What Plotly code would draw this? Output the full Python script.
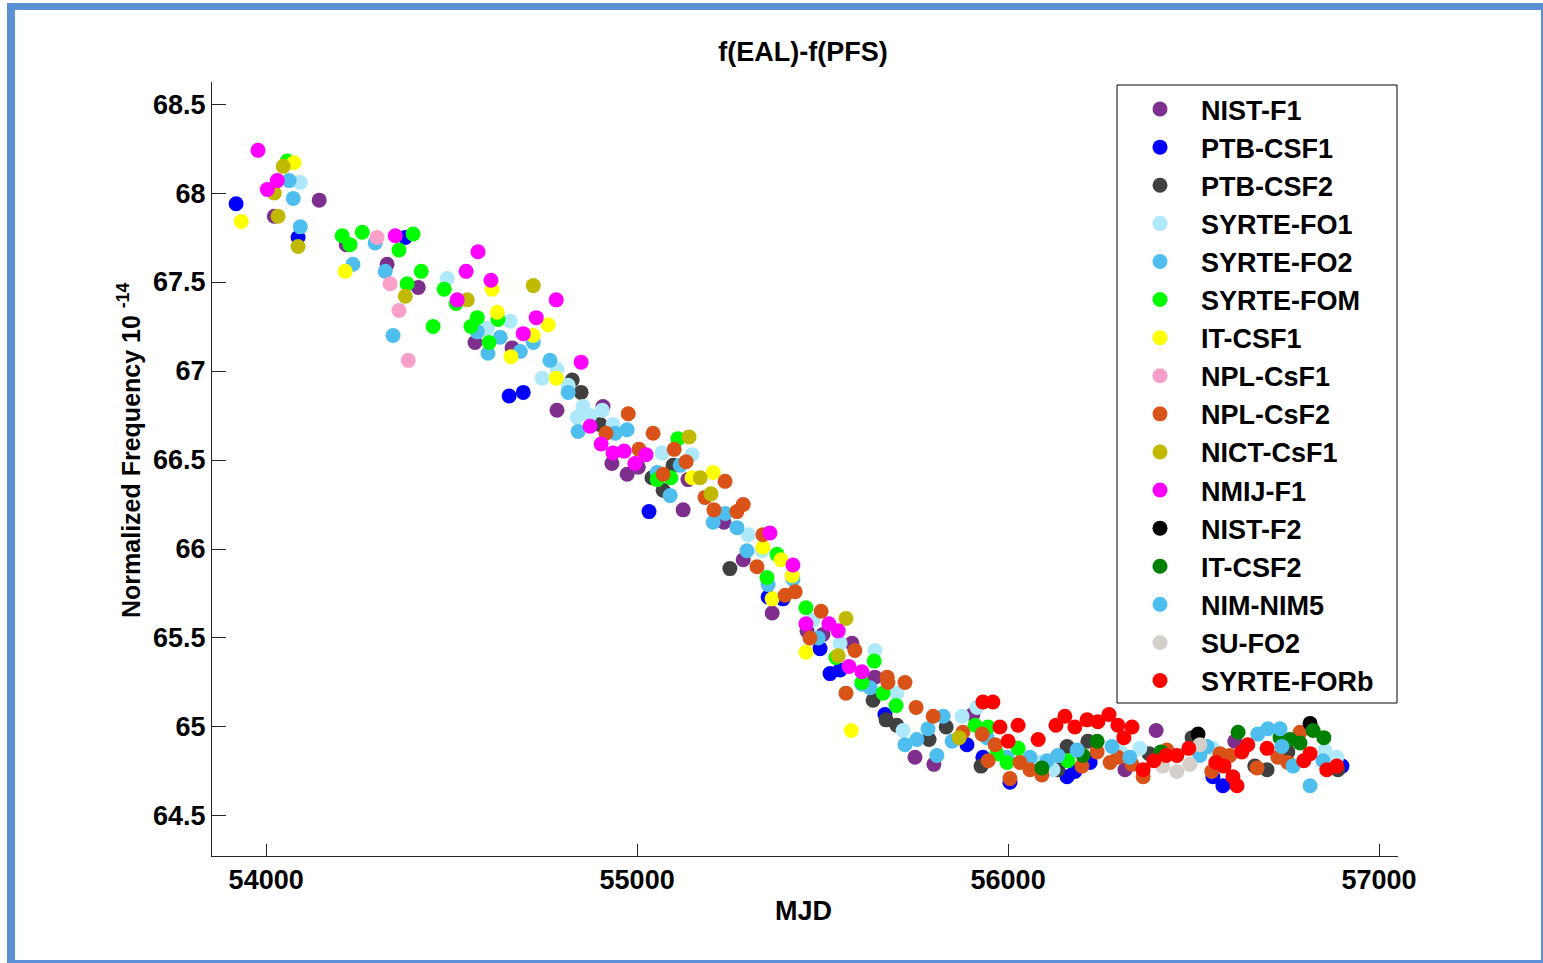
import plotly.graph_objects as go

# ---------------- data ----------------
NIST_F1_MJD = [54022, 54143, 54216, 54326, 54410, 54563, 54663, 54784, 54908, 54932, 54973, 55003, 55137,
               55124, 55234, 55286, 55364, 55458, 55501, 55579, 55641, 55749, 55800, 55905, 56399, 56315, 56611]
NIST_F1_VAL = [67.87, 67.96, 67.71, 67.60, 67.47, 67.16, 67.13, 66.78, 66.80, 66.48, 66.42, 66.46, 66.39,
               66.22, 66.15, 65.94, 65.64, 65.54, 65.52, 65.47, 65.28, 64.83, 64.79, 65.07, 64.98, 64.76, 64.92]

PTB_CSF1_MJD = [53919, 54086, 54375, 54655, 54693, 55032, 55353, 55393, 55493, 55520, 55547, 55668, 55889,
                55932, 56005, 56159, 56180, 56221, 56552, 56579, 56900]
PTB_CSF1_VAL = [67.94, 67.75, 67.75, 66.86, 66.88, 66.21, 65.73, 65.72, 65.44, 65.30, 65.32, 65.07, 64.90,
                64.83, 64.69, 64.72, 64.75, 64.80, 64.72, 64.67, 64.78]

PTB_CSF2_MJD = [54825, 54849, 54900, 55040, 55070, 55097, 55250, 55636, 55671, 55700, 55787, 55833, 55927,
                56134, 56159, 56215, 56380, 56496, 56665, 56698, 56754, 56889]
PTB_CSF2_VAL = [66.95, 66.88, 66.70, 66.40, 66.33, 66.47, 65.89, 65.15, 65.04, 65.01, 64.93, 65.00, 64.78,
                64.76, 64.89, 64.92, 64.85, 64.94, 64.78, 64.76, 64.86, 64.76]

SYRTE_FO1_MJD = [54092, 54488, 54596, 54658, 54744, 54784, 54814, 54838, 54854, 54873, 54906, 54935, 55067,
                 55148, 55299, 55337, 55474, 55547, 55641, 55700, 55717, 55876, 55916, 56086, 56121, 56302,
                 56355, 56552, 56854, 56886]
SYRTE_FO1_VAL = [68.06, 67.52, 67.24, 67.28, 66.96, 67.01, 66.92, 66.74, 66.80, 66.75, 66.78, 66.70, 66.54,
                 66.53, 66.08, 65.99, 65.60, 65.47, 65.43, 65.19, 64.98, 65.06, 65.11, 64.80, 64.76, 64.86,
                 64.88, 64.88, 64.87, 64.83]

SYRTE_FO2_MJD = [54062, 54073, 54092, 54234, 54294, 54321, 54342, 54569, 54598, 54631, 54685, 54720, 54765,
                 54814, 54841, 54941, 54973, 55054, 55089, 55116, 55205, 55237, 55269, 55296, 55353, 55420,
                 55488, 55606, 55628, 55722, 55754, 55784, 55825, 55808, 55849, 55943, 55997, 56059, 56105]
SYRTE_FO2_VAL = [68.07, 67.97, 67.81, 67.60, 67.72, 67.56, 67.20, 67.22, 67.10, 67.19, 67.11, 67.16, 67.06,
                 66.88, 66.66, 66.65, 66.67, 66.43, 66.30, 66.47, 66.15, 66.20, 66.12, 65.99, 65.80, 65.83,
                 65.50, 65.24, 65.22, 64.90, 64.93, 64.99, 65.06, 64.84, 64.92, 64.94, 64.83, 64.83, 64.81]

SYRTE_FOM_MJD = [54057, 54205, 54226, 54259, 54358, 54396, 54418, 54380, 54480, 54512, 54450, 54569, 54552,
                 54601, 54625, 55110, 55054, 55091, 55377, 55350, 55455, 55536, 55639, 55606, 55663, 55698,
                 55911, 55946, 55970, 55997, 56027, 56161]
SYRTE_FOM_VAL = [68.18, 67.76, 67.71, 67.78, 67.68, 67.77, 67.56, 67.49, 67.46, 67.38, 67.25, 67.30, 67.25,
                 67.16, 67.29, 66.62, 66.39, 66.40, 65.97, 65.84, 65.67, 65.39, 65.37, 65.25, 65.19, 65.12,
                 65.01, 65.00, 64.85, 64.80, 64.88, 64.81]

IT_CSF1_MJD = [53933, 54075, 54213, 54609, 54623, 54720, 54660, 54760, 54782, 55205, 55148, 55339, 55388,
               55418, 55364, 55455, 55577]
IT_CSF1_VAL = [67.84, 68.17, 67.56, 67.46, 67.33, 67.20, 67.08, 67.26, 66.96, 66.43, 66.40, 66.01, 65.94,
               65.85, 65.72, 65.42, 64.98]

NPL_CSF1_MJD = [54299, 54334, 54358, 54383]
NPL_CSF1_VAL = [67.75, 67.49, 67.34, 67.06]

NPL_CSF2_MJD = [54976, 55043, 54916, 55005, 55100, 55132, 55070, 55237, 55183, 55207, 55269, 55286, 55323,
                55339, 55399, 55426, 55496, 55466, 55587, 55674, 55563, 55676, 55722, 55752, 55798, 55878,
                55930, 55965, 55946, 56032, 56059, 56091, 56005, 56199, 56240, 56275, 56296, 56334, 56364,
                56428, 56525, 56549, 56571, 56598, 56671, 56727, 56754, 56787]
NPL_CSF2_VAL = [66.76, 66.65, 66.65, 66.56, 66.56, 66.49, 66.42, 66.38, 66.29, 66.22, 66.21, 66.25, 65.90,
                66.08, 65.74, 65.76, 65.65, 65.50, 65.43, 65.28, 65.19, 65.25, 65.25, 65.11, 65.06, 64.97,
                64.96, 64.90, 64.81, 64.80, 64.76, 64.73, 64.71, 64.78, 64.86, 64.80, 64.83, 64.79, 64.72,
                64.87, 64.89, 64.75, 64.85, 64.84, 64.77, 64.83, 64.80, 64.97]

NICT_CSF1_MJD = [54046, 54022, 54032, 54086, 54375, 54542, 54720, 55140, 55170, 55199, 55563, 55542, 55868]
NICT_CSF1_VAL = [68.15, 68.00, 67.87, 67.70, 67.42, 67.40, 67.48, 66.63, 66.40, 66.31, 65.61, 65.40, 64.94]

NMIJ_F1_MJD = [53978, 54030, 54003, 54348, 54571, 54539, 54606, 54515, 54782, 54728, 54693, 54849, 54873,
               54903, 54935, 54965, 54994, 55024, 55358, 55420, 55455, 55517, 55542, 55571, 55606]
NMIJ_F1_VAL = [68.24, 68.07, 68.02, 67.76, 67.67, 67.56, 67.51, 67.40, 67.40, 67.30, 67.21, 67.05, 66.69,
               66.59, 66.54, 66.55, 66.48, 66.53, 66.09, 65.91, 65.58, 65.58, 65.54, 65.34, 65.31]

NIST_F2_MJD = [56512, 56814]
NIST_F2_VAL = [64.96, 65.02]

IT_CSF2_MJD = [56091, 56202, 56240, 56412, 56620, 56733, 56760, 56787, 56822, 56851]
IT_CSF2_VAL = [64.77, 64.84, 64.92, 64.86, 64.97, 64.94, 64.93, 64.91, 64.98, 64.94]

NIM_NIM5_MJD = [56134, 56186, 56280, 56328, 56517, 56536, 56673, 56700, 56733, 56738, 56768, 56814, 56849]
NIM_NIM5_VAL = [64.84, 64.87, 64.89, 64.83, 64.84, 64.89, 64.96, 64.99, 64.99, 64.89, 64.78, 64.67, 64.81]

SU_FO2_MJD = [56417, 56455, 56490, 56517]
SU_FO2_VAL = [64.78, 64.75, 64.79, 64.90]

SYRTE_FORB_MJD = [55932, 55959, 55978, 56027, 56000, 56081, 56129, 56153, 56180, 56213, 56242, 56272, 56296,
                  56334, 56312, 56364, 56393, 56426, 56455, 56487, 56560, 56582, 56606, 56617, 56630, 56646,
                  56698, 56797, 56814, 56859, 56886]
SYRTE_FORB_VAL = [65.14, 65.14, 65.00, 65.01, 64.92, 64.93, 65.01, 65.06, 65.00, 65.04, 65.03, 65.07, 65.01,
                  65.00, 64.94, 64.76, 64.81, 64.84, 64.84, 64.88, 64.80, 64.78, 64.72, 64.67, 64.86, 64.90,
                  64.88, 64.81, 64.85, 64.76, 64.78]

SERIES_NAMES = ["NIST-F1", "PTB-CSF1", "PTB-CSF2", "SYRTE-FO1", "SYRTE-FO2", "SYRTE-FOM", "IT-CSF1",
                "NPL-CsF1", "NPL-CsF2", "NICT-CsF1", "NMIJ-F1", "NIST-F2", "IT-CSF2", "NIM-NIM5",
                "SU-FO2", "SYRTE-FORb"]
SERIES_X = [NIST_F1_MJD, PTB_CSF1_MJD, PTB_CSF2_MJD, SYRTE_FO1_MJD, SYRTE_FO2_MJD, SYRTE_FOM_MJD,
            IT_CSF1_MJD, NPL_CSF1_MJD, NPL_CSF2_MJD, NICT_CSF1_MJD, NMIJ_F1_MJD, NIST_F2_MJD,
            IT_CSF2_MJD, NIM_NIM5_MJD, SU_FO2_MJD, SYRTE_FORB_MJD]
SERIES_Y = [NIST_F1_VAL, PTB_CSF1_VAL, PTB_CSF2_VAL, SYRTE_FO1_VAL, SYRTE_FO2_VAL, SYRTE_FOM_VAL,
            IT_CSF1_VAL, NPL_CSF1_VAL, NPL_CSF2_VAL, NICT_CSF1_VAL, NMIJ_F1_VAL, NIST_F2_VAL,
            IT_CSF2_VAL, NIM_NIM5_VAL, SU_FO2_VAL, SYRTE_FORB_VAL]

X_TICKS = [54000, 55000, 56000, 57000]
X_TICK_LABELS = ["54000", "55000", "56000", "57000"]
Y_TICKS = [64.5, 65.0, 65.5, 66.0, 66.5, 67.0, 67.5, 68.0, 68.5]
Y_TICK_LABELS = ["64.5", "65", "65.5", "66", "66.5", "67", "67.5", "68", "68.5"]

# ---------------- styles ----------------
COLORS = ["#7E2F8E", "#0000FF", "#404040", "#AEE9FB", "#4DBEEE", "#00FF00", "#FFFF00", "#F9A0C8",
          "#D95319", "#C0B900", "#FF00FF", "#000000", "#008000", "#4DBEEE", "#D4D0C9", "#FF0000"]

FONT = "Liberation Sans, Arial, sans-serif"
W, H = 1543, 963
PL, PR, PT, PB = 212, 1398, 82, 856   # plot area in pixels


def px_x(p):
    return (p - PL) / (PR - PL)


def px_y(p):
    return (PB - p) / (PB - PT)


fig = go.Figure()
for name, xs, ys, col in zip(SERIES_NAMES, SERIES_X, SERIES_Y, COLORS):
    fig.add_trace(go.Scatter(
        x=xs, y=ys, mode="markers", name=name,
        marker=dict(size=15, color=col, line=dict(width=0)),
    ))

axis_common = dict(
    showline=True, linecolor="#262626", linewidth=1, mirror=False,
    showgrid=False, zeroline=False, ticks="inside", tickcolor="#262626", tickwidth=1,
    tickfont=dict(family=FONT, size=27, color="black", weight="bold"),
)

fig.update_layout(
    width=W, height=H, autosize=False,
    margin=dict(l=PL, r=W - PR, t=PT, b=H - PB, pad=0),
    paper_bgcolor="white", plot_bgcolor="white",
    showlegend=True,
    title=dict(text="f(EAL)-f(PFS)", x=px_x(803), xref="paper", xanchor="center",
               y=1 - 52 / H, yref="container", yanchor="middle",
               font=dict(family=FONT, size=27, color="black", weight="bold")),
    xaxis=dict(range=[53854, 57051], tickvals=X_TICKS, ticktext=X_TICK_LABELS, ticklen=12,
               **axis_common),
    yaxis=dict(range=[64.275, 68.624], tickvals=Y_TICKS, ticktext=Y_TICK_LABELS, ticklen=14,
               **axis_common),
    legend=dict(
        x=px_x(1119), y=px_y(85), xanchor="left", yanchor="top",
        bgcolor="rgba(0,0,0,0)", borderwidth=0,
        font=dict(family=FONT, size=27, color="black", weight="bold"),
        itemwidth=72, tracegroupgap=0,
    ),
    annotations=[
        dict(text="MJD", x=px_x(803), y=px_y(911), xref="paper", yref="paper",
             xanchor="center", yanchor="middle", showarrow=False,
             font=dict(family=FONT, size=27, color="black", weight="bold")),
        dict(text="Normalized Frequency 10 <sup>-14</sup>", x=px_x(129), y=px_y(451),
             xref="paper", yref="paper", xanchor="center", yanchor="middle", textangle=-90,
             showarrow=False, font=dict(family=FONT, size=25, color="black", weight="bold")),
    ],
    shapes=[
        # legend box (white, hides points behind it)
        dict(type="rect", xref="paper", yref="paper", x0=px_x(1117), x1=px_x(1397), y0=px_y(703), y1=px_y(85),
             fillcolor="white", line=dict(color="black", width=1), layer="above"),
        # blue frame around the figure
        dict(type="rect", xref="paper", yref="paper", x0=px_x(7), x1=px_x(15), y0=px_y(963), y1=px_y(3),
             fillcolor="#5B8FD6", line=dict(width=0), layer="above"),
        dict(type="rect", xref="paper", yref="paper", x0=px_x(7), x1=px_x(1543), y0=px_y(10), y1=px_y(3),
             fillcolor="#5B8FD6", line=dict(width=0), layer="above"),
        dict(type="rect", xref="paper", yref="paper", x0=px_x(1541), x1=px_x(1543), y0=px_y(963), y1=px_y(3),
             fillcolor="#5B8FD6", line=dict(width=0), layer="above"),
        dict(type="rect", xref="paper", yref="paper", x0=px_x(7), x1=px_x(1543), y0=px_y(963), y1=px_y(960),
             fillcolor="#5B8FD6", line=dict(width=0), layer="above"),
    ],
)

fig.write_html("out.html", config={"displayModeBar": False},
               post_script="document.body.style.margin='0';document.body.style.overflow='hidden';")
